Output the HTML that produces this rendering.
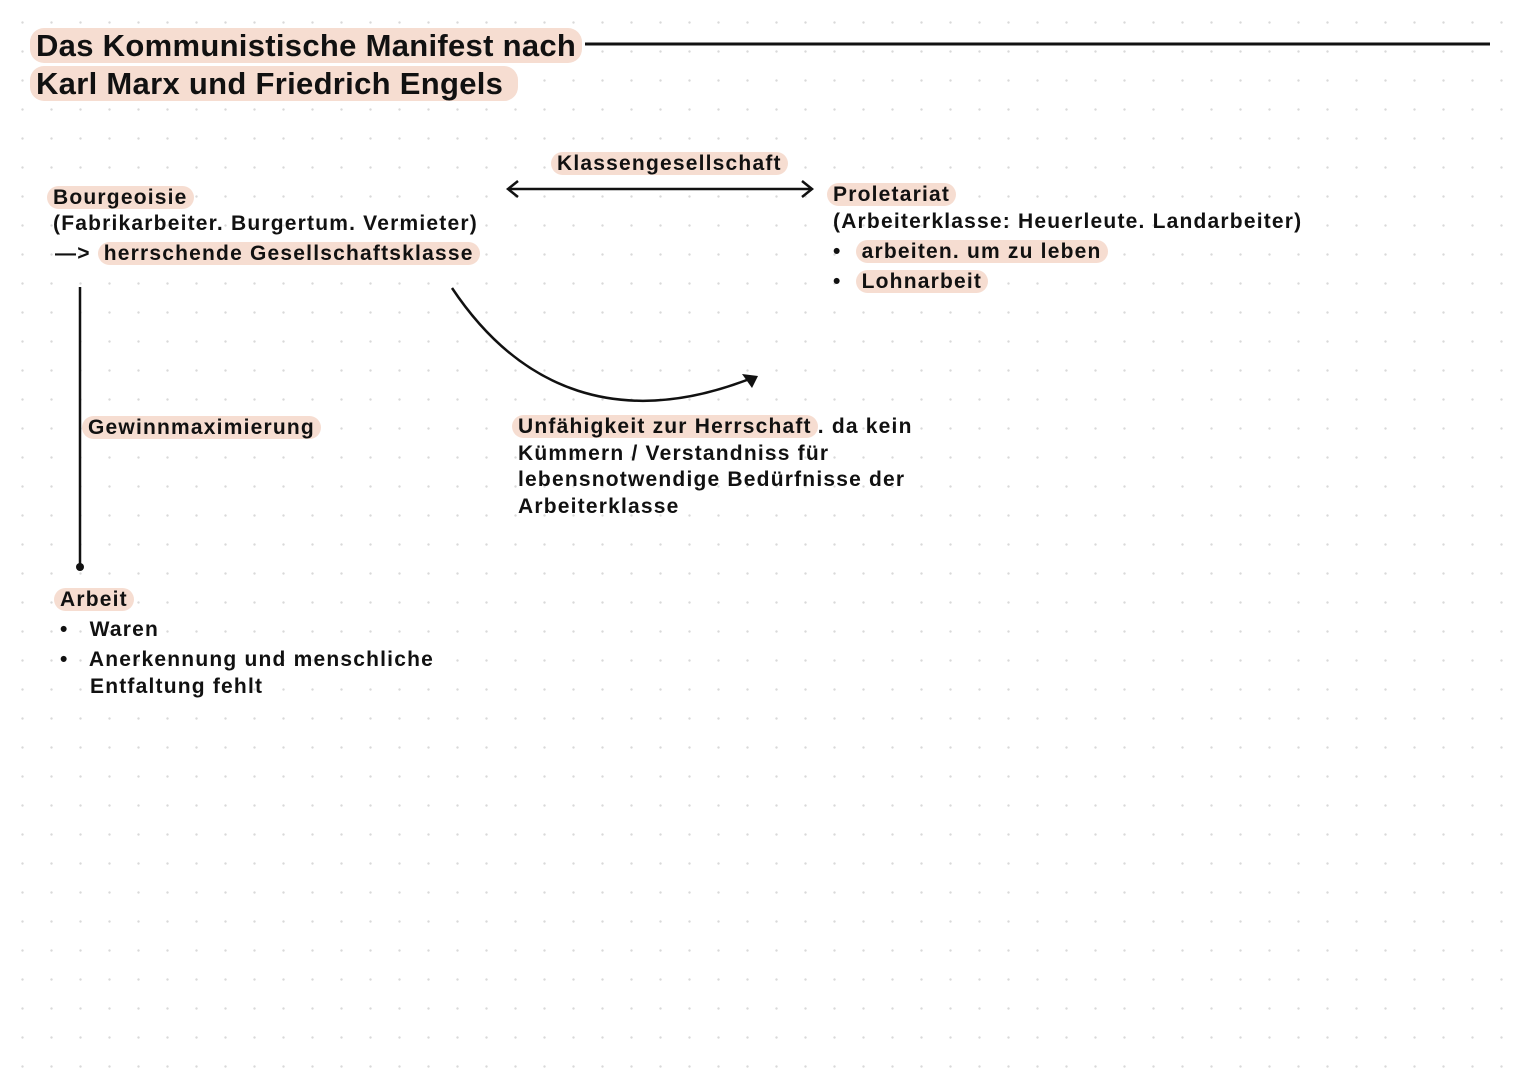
<!DOCTYPE html>
<html><head><meta charset="utf-8"><style>
body{margin:0;width:1527px;height:1080px;overflow:hidden;background:#fff;
background-image:radial-gradient(circle,#d9d9d9 1px,transparent 1.4px);background-size:29px 29px;background-position:8px 8px;
font-family:"Liberation Sans",sans-serif;color:#111;}
.t{position:absolute;white-space:nowrap;font-size:21px;font-weight:bold;letter-spacing:1.2px;line-height:28px;}
.h{background:#f6ddd1;border-radius:14px;padding:0 6px;margin-left:-6px;}
.ti{position:absolute;font-size:31px;font-weight:bold;white-space:nowrap;letter-spacing:0.3px;}
</style></head><body>
<div class="ti" style="left:36px;top:28px"><span class="h">Das Kommunistische Manifest nach</span></div>
<div class="ti" style="left:36px;top:66px"><span class="h">Karl Marx und Friedrich Engels&nbsp;</span></div>
<svg width="1527" height="1080" style="position:absolute;left:0;top:0">
<line x1="585" y1="44" x2="1490" y2="44" stroke="#111" stroke-width="3"/>
<line x1="510" y1="189" x2="810" y2="189" stroke="#111" stroke-width="2.5"/>
<path d="M518,181 L508,189 L518,197 M802,181 L812,189 L802,197" fill="none" stroke="#111" stroke-width="2.5"/>
<line x1="80" y1="287" x2="80" y2="568" stroke="#111" stroke-width="2.5"/>
<circle cx="80" cy="567" r="4" fill="#111"/>
<path d="M452,288 C520,390 620,430 752,378" fill="none" stroke="#111" stroke-width="2.5"/>
<path d="M742,374 L758,376 L752,388 Z" fill="#111"/>
</svg>
<div class="t" style="left:557px;top:150px"><span class="h">Klassengesellschaft</span></div>
<div class="t" style="left:53px;top:184px"><span class="h">Bourgeoisie</span></div>
<div class="t" style="left:53px;top:210px">(Fabrikarbeiter. Burgertum. Vermieter)</div>
<div class="t" style="left:55px;top:240px">—&gt; <span class="h" style="margin-left:0">herrschende Gesellschaftsklasse</span></div>
<div class="t" style="left:833px;top:181px"><span class="h">Proletariat</span></div>
<div class="t" style="left:833px;top:208px">(Arbeiterklasse: Heuerleute. Landarbeiter)</div>
<div class="t" style="left:833px;top:238px">•&nbsp; <span class="h" style="margin-left:0">arbeiten. um zu leben</span></div>
<div class="t" style="left:833px;top:268px">•&nbsp; <span class="h" style="margin-left:0">Lohnarbeit</span></div>
<div class="t" style="left:88px;top:414px"><span class="h">Gewinnmaximierung</span></div>
<div class="t" style="left:518px;top:414px;line-height:26.5px"><span class="h">Unfähigkeit zur Herrschaft</span>. da kein<br>Kümmern / Verstandniss für<br>lebensnotwendige Bedürfnisse der<br>Arbeiterklasse</div>
<div class="t" style="left:60px;top:586px"><span class="h">Arbeit</span></div>
<div class="t" style="left:60px;top:616px">•&nbsp;&nbsp; Waren</div>
<div class="t" style="left:60px;top:646px;line-height:27px">•&nbsp;&nbsp; Anerkennung und menschliche<br><span style="padding-left:30px">Entfaltung fehlt</span></div>
</body></html>
